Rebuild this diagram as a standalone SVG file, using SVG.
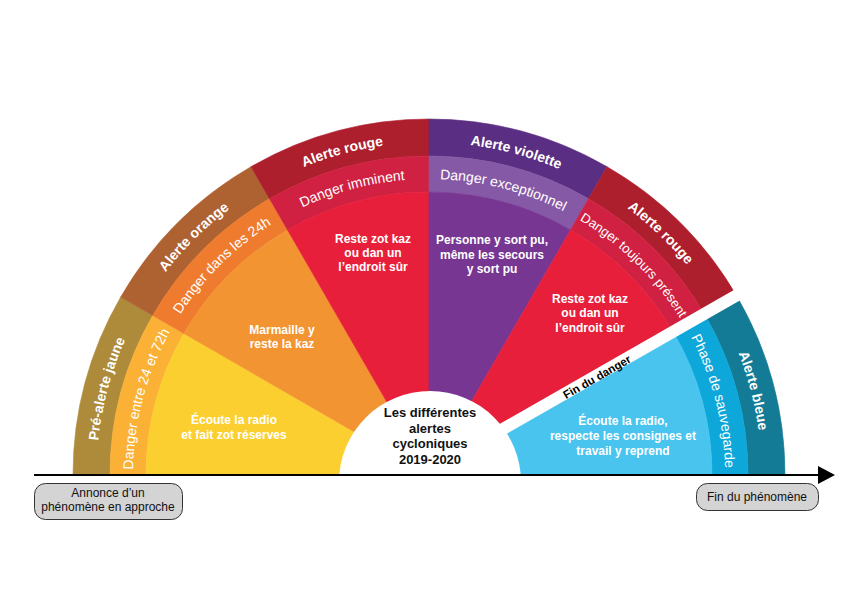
<svg xmlns="http://www.w3.org/2000/svg" xmlns:xlink="http://www.w3.org/1999/xlink" width="860" height="613" viewBox="0 0 860 613">
<style>
.arcB{font-family:"Liberation Sans",Arial,sans-serif;font-weight:bold;font-size:14px;fill:#fff}
.arcR{font-family:"Liberation Sans",Arial,sans-serif;font-size:14px;fill:#fff}
.body{font-family:"Liberation Sans",Arial,sans-serif;font-weight:bold;font-size:12px;fill:#fff;text-anchor:middle}
.center{font-family:"Liberation Sans",Arial,sans-serif;font-weight:bold;font-size:13px;fill:#111;text-anchor:middle}
.box{fill:#d4d4d4;stroke:#333;stroke-width:1}
.boxtxt{font-family:"Liberation Sans",Arial,sans-serif;font-size:12px;fill:#111;text-anchor:middle}
.fin{font-family:"Liberation Sans",Arial,sans-serif;font-weight:bold;font-size:11.5px;fill:#000;text-anchor:middle}
</style>
<defs>
<path id="arcOut" d="M96.5,475 A332.5,332.5 0 0 1 761.5,475"/>
<path id="arcMid" d="M133,475 A296,296 0 0 1 725,475"/>
<marker id="arrow" markerUnits="userSpaceOnUse" markerWidth="17" markerHeight="18" viewBox="0 0 17 18" refX="0" refY="9" orient="auto">
<path d="M0,0 L17,9 L0,18 Z" fill="#000"/>
</marker>
</defs>
<rect width="860" height="613" fill="#fff"/>

<g id="sector-prealerte-jaune">
<path d="M73,475 A356,356 0 0 1 120.7,297 L152.7,315.5 A319,319 0 0 0 110,475 Z" fill="#ad8b3b" stroke="#ad8b3b" stroke-width="0.6"/>
<path d="M110,475 A319,319 0 0 1 152.7,315.5 L183.9,333.5 A283,283 0 0 0 146,475 Z" fill="#fbb135" stroke="#fbb135" stroke-width="0.6"/>
<path d="M429,475 L146,475 A283,283 0 0 1 183.9,333.5 Z" fill="#fccf31" stroke="#fccf31" stroke-width="0.6"/>
</g>
<g id="sector-alerte-orange">
<path d="M120.7,297 A356,356 0 0 1 251,166.7 L269.5,198.7 A319,319 0 0 0 152.7,315.5 Z" fill="#af6231" stroke="#af6231" stroke-width="0.6"/>
<path d="M152.7,315.5 A319,319 0 0 1 269.5,198.7 L287.5,229.9 A283,283 0 0 0 183.9,333.5 Z" fill="#ef7c2e" stroke="#ef7c2e" stroke-width="0.6"/>
<path d="M429,475 L183.9,333.5 A283,283 0 0 1 287.5,229.9 Z" fill="#f39433" stroke="#f39433" stroke-width="0.6"/>
</g>
<g id="sector-alerte-rouge">
<path d="M251,166.7 A356,356 0 0 1 429,119 L429,156 A319,319 0 0 0 269.5,198.7 Z" fill="#ae1f2d" stroke="#ae1f2d" stroke-width="0.6"/>
<path d="M269.5,198.7 A319,319 0 0 1 429,156 L429,192 A283,283 0 0 0 287.5,229.9 Z" fill="#d02142" stroke="#d02142" stroke-width="0.6"/>
<path d="M429,475 L287.5,229.9 A283,283 0 0 1 429,192 Z" fill="#e81f3b" stroke="#e81f3b" stroke-width="0.6"/>
</g>
<g id="sector-alerte-violette">
<path d="M429,119 A356,356 0 0 1 607,166.7 L588.5,198.7 A319,319 0 0 0 429,156 Z" fill="#5a2e82" stroke="#5a2e82" stroke-width="0.6"/>
<path d="M429,156 A319,319 0 0 1 588.5,198.7 L570.5,229.9 A283,283 0 0 0 429,192 Z" fill="#8659a6" stroke="#8659a6" stroke-width="0.6"/>
<path d="M429,475 L429,192 A283,283 0 0 1 570.5,229.9 Z" fill="#763692" stroke="#763692" stroke-width="0.6"/>
</g>
<g id="sector-alerte-rouge-2">
<path d="M607,166.7 A356,356 0 0 1 737.3,297 L705.3,315.5 A319,319 0 0 0 588.5,198.7 Z" fill="#ae1f2d" stroke="#ae1f2d" stroke-width="0.6"/>
<path d="M588.5,198.7 A319,319 0 0 1 705.3,315.5 L674.1,333.5 A283,283 0 0 0 570.5,229.9 Z" fill="#d02142" stroke="#d02142" stroke-width="0.6"/>
<path d="M429,475 L570.5,229.9 A283,283 0 0 1 674.1,333.5 Z" fill="#e81f3b" stroke="#e81f3b" stroke-width="0.6"/>
</g>
<g id="sector-alerte-bleue">
<path d="M737.3,297 A356,356 0 0 1 785,475 L748,475 A319,319 0 0 0 705.3,315.5 Z" fill="#137b95" stroke="#137b95" stroke-width="0.6"/>
<path d="M705.3,315.5 A319,319 0 0 1 748,475 L712,475 A283,283 0 0 0 674.1,333.5 Z" fill="#0ea7d9" stroke="#0ea7d9" stroke-width="0.6"/>
<path d="M429,475 L674.1,333.5 A283,283 0 0 1 712,475 Z" fill="#48c4ef" stroke="#48c4ef" stroke-width="0.6"/>
</g>

<g id="fin-du-danger">
<line x1="440" y1="465" x2="760" y2="282" stroke="#fff" stroke-width="12"/>
<text class="fin" transform="translate(597,377) rotate(-29.8)" x="0" y="4">Fin du danger</text>
</g>

<g id="centre">
<circle cx="430" cy="482" r="91" fill="#fff"/>
<text class="center" x="430" y="417">Les différentes</text>
<text class="center" x="430" y="433">alertes</text>
<text class="center" x="430" y="448">cycloniques</text>
<text class="center" x="430" y="464">2019-2020</text>
</g>

<g id="labels-prealerte-jaune">
<text class="arcB"><textPath href="#arcOut" startOffset="8.333%" text-anchor="middle">Pré-alerte jaune</textPath></text>
<text class="arcR"><textPath href="#arcMid" startOffset="8.333%" text-anchor="middle">Danger entre 24 et 72h</textPath></text>
<text class="body" x="234" y="424">Écoute la radio</text>
<text class="body" x="234" y="439">et fait zot réserves</text>
</g>
<g id="labels-alerte-orange">
<text class="arcB"><textPath href="#arcOut" startOffset="25.2%" text-anchor="middle">Alerte orange</textPath></text>
<text class="arcR"><textPath href="#arcMid" startOffset="25.2%" text-anchor="middle">Danger dans les 24h</textPath></text>
<text class="body" x="282" y="334">Marmaille y</text>
<text class="body" x="282" y="348">reste la kaz</text>
</g>
<g id="labels-alerte-rouge">
<text class="arcB"><textPath href="#arcOut" startOffset="41.667%" text-anchor="middle">Alerte rouge</textPath></text>
<text class="arcR"><textPath href="#arcMid" startOffset="41.667%" text-anchor="middle">Danger imminent</textPath></text>
<text class="body" x="373" y="243">Reste zot kaz</text>
<text class="body" x="373" y="257">ou dan un</text>
<text class="body" x="373" y="271">l’endroit sûr</text>
</g>
<g id="labels-alerte-violette">
<text class="arcB"><textPath href="#arcOut" startOffset="58.4%" text-anchor="middle">Alerte violette</textPath></text>
<text class="arcR"><textPath href="#arcMid" startOffset="58.1%" text-anchor="middle">Danger exceptionnel</textPath></text>
<text class="body" x="492" y="244">Personne y sort pu,</text>
<text class="body" x="492" y="259">même les secours</text>
<text class="body" x="492" y="273">y sort pu</text>
</g>
<g id="labels-alerte-rouge-2">
<text class="arcB"><textPath href="#arcOut" startOffset="74.3%" text-anchor="middle">Alerte rouge</textPath></text>
<text class="arcR" style="font-size:13.2px"><textPath href="#arcMid" startOffset="74.6%" text-anchor="middle">Danger toujours présent</textPath></text>
<text class="body" x="590" y="303">Reste zot kaz</text>
<text class="body" x="590" y="317">ou dan un</text>
<text class="body" x="590" y="332">l’endroit sûr</text>
</g>
<g id="labels-alerte-bleue">
<text class="arcB"><textPath href="#arcOut" startOffset="91.9%" text-anchor="middle">Alerte bleue</textPath></text>
<text class="arcR"><textPath href="#arcMid" startOffset="91.9%" text-anchor="middle">Phase de sauvegarde</textPath></text>
<text class="body" x="623" y="425">Écoute la radio,</text>
<text class="body" x="623" y="440">respecte les consignes et</text>
<text class="body" x="623" y="455">travail y reprend</text>
</g>

<g id="connectors">
<line x1="34" y1="475" x2="818" y2="475" stroke="#000" stroke-width="2" marker-end="url(#arrow)"/>
</g>

<g id="annonce">
<rect class="box" x="34.5" y="483.5" width="148" height="36" rx="11"/>
<text class="boxtxt" x="108" y="497">Annonce d’un</text>
<text class="boxtxt" x="108" y="511">phénomène en approche</text>
</g>
<g id="fin-phenomene">
<rect class="box" x="696.5" y="483.5" width="122" height="27" rx="11"/>
<text class="boxtxt" x="757" y="501">Fin du phénomène</text>
</g>
</svg>
